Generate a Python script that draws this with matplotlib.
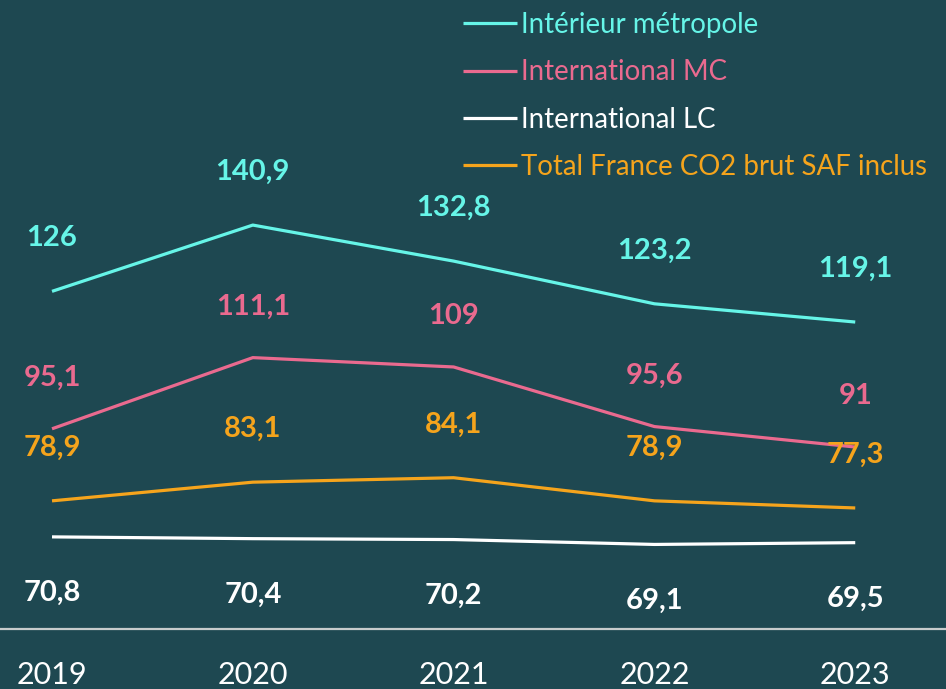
import matplotlib
matplotlib.use("Agg")
import matplotlib.pyplot as plt

years = [2019, 2020, 2021, 2022, 2023]
interieur = [126, 140.9, 132.8, 123.2, 119.1]
intl_mc = [95.1, 111.1, 109, 95.6, 91]
intl_lc = [70.8, 70.4, 70.2, 69.1, 69.5]
total_fr = [78.9, 83.1, 84.1, 78.9, 77.3]

names = ["Intérieur métropole", "International MC", "International LC",
         "Total France CO2 brut SAF inclus"]
series = [interieur, intl_mc, intl_lc, total_fr]
colors = ["#66f5e8", "#ea6a8f", "#ffffff", "#f5a41c"]
# label offsets in pixels (positive = above)
offsets = [53, 51, -56, 53]

BG = "#1e4851"
FONT = "Lato"

fig = plt.figure(figsize=(9.46, 6.89), dpi=100, facecolor=BG)
ax = fig.add_axes([0, 0, 1, 1])
ax.set_facecolor(BG)
ax.set_xlim(2018.741, 2023.452)
ax.set_ylim(36.6, 191.5)
for s in ax.spines.values():
    s.set_visible(False)
ax.set_xticks([])
ax.set_yticks([])

ax.axhline(50, color="#c8cccc", lw=1.6)

for name, vals, col, off in zip(names, series, colors, offsets):
    ax.plot(years, vals, color=col, lw=2.3, label=name, solid_capstyle="butt")
    for x, v in zip(years, vals):
        lab = f"{v:g}".replace(".", ",")
        ax.annotate(lab, (x, v), xytext=(0, off), textcoords="offset pixels",
                    ha="center", va="center", color=col, fontsize=21,
                    fontweight="bold", fontfamily=FONT)

for x in years:
    ax.annotate(str(x), (x, 50), xytext=(0, -46), textcoords="offset pixels",
                ha="center", va="center", color="white", fontsize=22,
                fontfamily=FONT)

leg = ax.legend(loc="upper left", bbox_to_anchor=(463 / 946, 1 - 12 / 689),
                frameon=False, prop={"family": FONT, "size": 19.9},
                labelcolor="linecolor", handlelength=1.95, handletextpad=0.15,
                labelspacing=0.77, borderpad=0, borderaxespad=0)

fig.savefig("out.png", dpi=100, facecolor=BG)
